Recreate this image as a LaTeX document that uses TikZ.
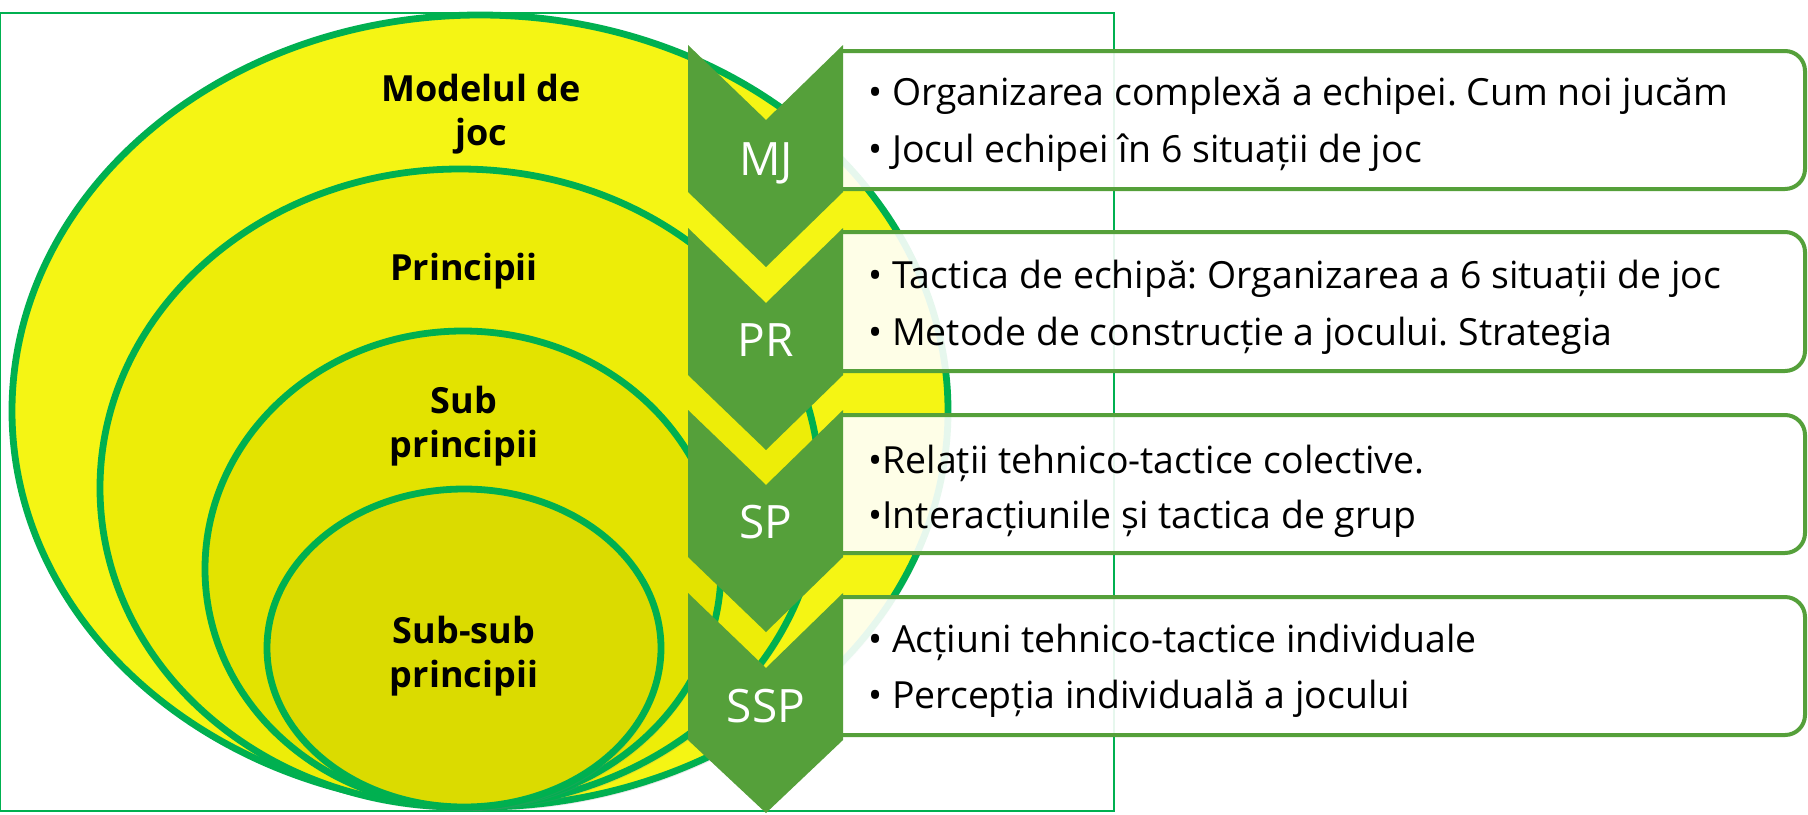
\documentclass[tikz,border=0pt]{standalone}
\usepackage{fontspec}
\setmainfont{Open Sans}
\frenchspacing
\usetikzlibrary{calc,shadows}
\definecolor{ringgreen}{RGB}{0,176,80}
\definecolor{chevgreen}{RGB}{85,160,58}
\definecolor{yellowA}{RGB}{245,245,20}
\definecolor{yellowB}{RGB}{237,237,8}
\definecolor{yellowC}{RGB}{227,227,0}
\definecolor{yellowD}{RGB}{219,219,0}
\tikzset{
  ring/.style={draw=ringgreen, line width=3.4pt, drop shadow={opacity=0.18, shadow xshift=1pt, shadow yshift=-2pt}},
  ringlabel/.style={font=\bfseries\fontsize{18}{22}\selectfont, align=center, inner sep=0pt},
  chev/.style={fill=chevgreen, draw=none},
  chevlabel/.style={font=\fontsize{23}{27}\selectfont, text=white, inner sep=0pt, anchor=base},
  infobox/.style={draw=chevgreen, line width=2pt, fill=white, fill opacity=0.9, rounded corners=10pt},
  item/.style={font=\fontsize{18.7}{22}\selectfont, inner sep=0pt, anchor=base west}
}

\begin{document}
\begin{tikzpicture}[x=0.5pt, y=-0.5pt]
			%%%%% START %%%%%
			\useasboundingbox (0, 0) rectangle (1808, 814);
			
			\draw[ringgreen, line width=1pt] (0, 13) rectangle (1114, 811);
			
			% nested ellipses
			\draw[ring, fill=yellowA] (480, 411) ellipse [x radius=468, y radius=396];
			\draw[ring, fill=yellowB] (460, 488) ellipse [x radius=360, y radius=319];
			\draw[ring, fill=yellowC] (463, 569) ellipse [x radius=258, y radius=238];
			\draw[ring, fill=yellowD] (464, 648) ellipse [x radius=197, y radius=159];
			
			\node[ringlabel] (mjtext) at (481, 114) {Modelul de\\joc};
			\node[ringlabel] (prtext) at (464, 271) {Principii};
			\node[ringlabel] (sptext) at (464, 426) {Sub\\principii};
			\node[ringlabel] (ssptext) at (464, 656) {Sub-sub\\principii};
			
			% boxes, open on the left where the chevron sits
			\draw[infobox] (843, 51) -- (1805, 51) -- (1805, 189) -- (843, 189);
			\draw[infobox] (843, 232) -- (1805, 232) -- (1805, 371) -- (843, 371);
			\draw[infobox] (843, 415) -- (1805, 415) -- (1805, 553) -- (843, 553);
			\draw[infobox] (843, 597) -- (1805, 597) -- (1805, 735) -- (843, 735);
			
			% chevrons
			\draw[chev] (688, 45) -- (766, 120) -- (843, 45) -- (843, 192) -- (766, 267) -- (688, 192) -- cycle;
			\draw[chev] (688, 228) -- (766, 303) -- (843, 228) -- (843, 375) -- (766, 450) -- (688, 375) -- cycle;
			\draw[chev] (688, 410) -- (766, 485) -- (843, 410) -- (843, 557) -- (766, 632) -- (688, 557) -- cycle;
			\draw[chev] (688, 593) -- (766, 668) -- (843, 593) -- (843, 740) -- (766, 813) -- (688, 740) -- cycle;
			
			\node[chevlabel] (mj) at (766, 175) {MJ};
			\node[chevlabel] (pr) at (766, 356) {PR};
			\node[chevlabel] (sp) at (766, 538) {SP};
			\node[chevlabel] (ssp) at (766, 722) {SSP};
			
			% texts
			\node[item] (mja) at (868, 105) {• Organizarea complexă a echipei. Cum noi jucăm};
			\node[item] (mjb) at (868, 162) {• Jocul echipei în 6 situații de joc};
			\node[item] (pra) at (868, 288) {• Tactica de echipă: Organizarea a 6 situații de joc};
			\node[item] (prb) at (868, 345) {• Metode de construcție a jocului. Strategia};
			\node[item] (spa) at (868, 473) {•Relații tehnico-tactice colective.};
			\node[item] (spb) at (868, 528) {•Interacțiunile și tactica de grup};
			\node[item] (sspa) at (868, 652) {• Acțiuni tehnico-tactice individuale};
			\node[item] (sspb) at (868, 708) {• Percepția individuală a jocului};
			
			%%%%% END %%%%%
\end{tikzpicture}
\end{document}
